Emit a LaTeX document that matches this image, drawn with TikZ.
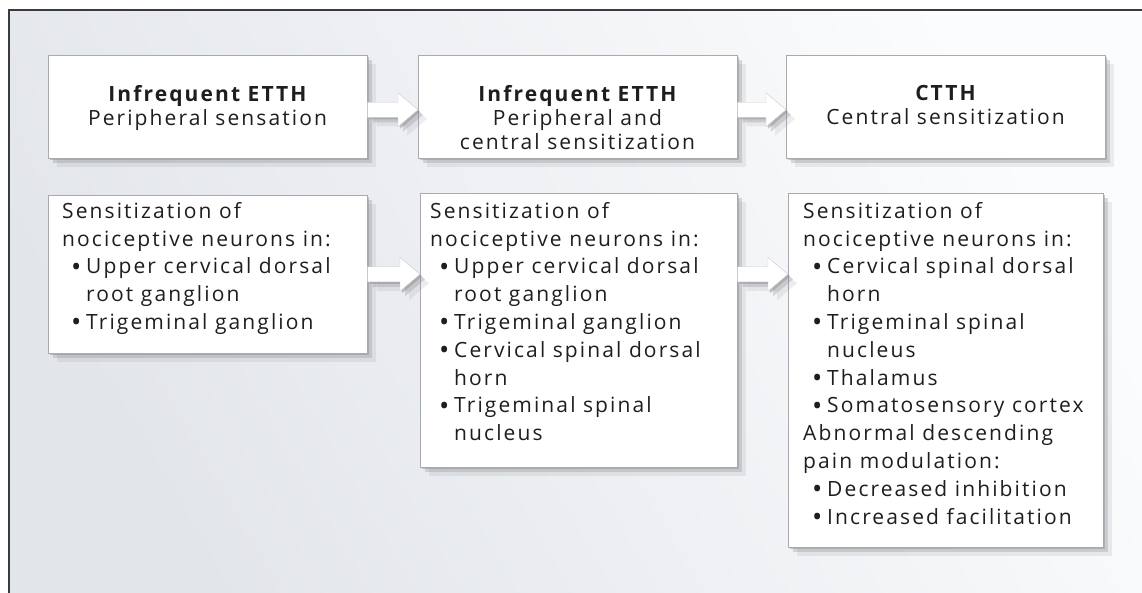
\documentclass[tikz,border=0pt]{standalone}
\usepackage{fontspec}
\setmainfont{Open Sans}[LetterSpace=10]
\usetikzlibrary{shadows,calc}
\definecolor{bgA}{HTML}{E2E5EA}
\definecolor{bgB}{HTML}{FBFCFD}
\definecolor{framec}{HTML}{3A3B40}
\definecolor{boxline}{HTML}{A9AAAE}
\definecolor{shade}{HTML}{8A8C92}
\definecolor{txtc}{HTML}{1E1E22}
\newcommand\bul{\makebox[24pt][l]{\hspace*{9pt}\raisebox{-2.2pt}{\scalebox{1.3}{\textbullet}}}}
\newcommand\ind{\hspace*{24pt}}
\tikzset{
  softshadow/.style={
    general shadow={shadow xshift=2pt, shadow yshift=-2pt, fill=shade, opacity=0.45},
    general shadow={shadow xshift=5pt, shadow yshift=-5pt, fill=shade, opacity=0.3},
    general shadow={shadow xshift=9pt, shadow yshift=-9pt, fill=shade, opacity=0.15}},
  box/.style={draw=boxline, line width=0.6pt, fill=white, anchor=north west, inner sep=0, softshadow},
  blockarrow/.style={fill=white, draw=boxline!60, line width=0.4pt, softshadow},
  headtxt/.style={anchor=north, inner sep=0, align=center, text=txtc, font=\fontsize{21}{24}\selectfont},
  listtxt/.style={anchor=north west, inner sep=0, align=left, text=txtc, font=\fontsize{21}{27.8}\selectfont},
  framel/.style={draw=framec, line width=1.4pt}
}
\newcommand\blockarr[2]{%
  \path[blockarrow] ($(#1)+(0,7.5)$) -- ($(#2)+(-20,7.5)$) -- ($(#2)+(-20,17)$) -- (#2)
    -- ($(#2)+(-20,-17)$) -- ($(#2)+(-20,-7.5)$) -- ($(#1)+(0,-7.5)$) -- cycle;}
\begin{document}
\begin{tikzpicture}[x=1pt,y=1pt]
\useasboundingbox (0,0) rectangle (1142,-593);
\fill[white] (0,0) rectangle (1142,-593);
\shade[left color=bgA, right color=bgB, shading angle=120] (9,-10) rectangle (1142,-593);
\draw[framel] (9,-593) -- (9,-10) -- (1142,-10);

% top row
\node[box, minimum width=319pt, minimum height=103pt] (A) at (48,-55) {};
\node[box, minimum width=319pt, minimum height=103pt] (B) at (418,-55) {};
\node[box, minimum width=319pt, minimum height=103pt] (C) at (786,-55) {};
% bottom row
\node[box, minimum width=319pt, minimum height=158pt] (D) at (48,-195) {};
\node[box, minimum width=317pt, minimum height=274pt] (E) at (420,-193) {};
\node[box, minimum width=315pt, minimum height=354pt] (F) at (788,-193) {};

% arrows
\coordinate (a1s) at ($(A.east)+(0,-3)$);
\coordinate (a1e) at ($(B.west)+(0,-3)$);
\coordinate (a2s) at ($(B.east)+(0,-3)$);
\coordinate (a2e) at ($(C.west)+(0,-3)$);
\coordinate (a3s) at (D.east);
\coordinate (a3e) at (E.west |- D.east);
\coordinate (a4s) at (E.east |- D.east);
\coordinate (a4e) at (F.west |- D.east);
\blockarr{a1s}{a1e}
\blockarr{a2s}{a2e}
\blockarr{a3s}{a3e}
\blockarr{a4s}{a4e}

% texts
\node[headtxt] (tA) at (207.5,-85) {{\bfseries Infrequent ETTH}\\Peripheral sensation};
\node[headtxt] (tB) at (577.5,-85) {{\bfseries Infrequent ETTH}\\Peripheral and\\central sensitization};
\node[headtxt] (tC) at (945.5,-85) {{\bfseries CTTH}\\Central sensitization};

\node[listtxt] (tD) at (62,-202) {Sensitization of\\nociceptive neurons in:\\
\bul Upper cervical dorsal\\\ind root ganglion\\\bul Trigeminal ganglion};
\node[listtxt] (tE) at (430,-202) {Sensitization of\\nociceptive neurons in:\\
\bul Upper cervical dorsal\\\ind root ganglion\\\bul Trigeminal ganglion\\
\bul Cervical spinal dorsal\\\ind horn\\\bul Trigeminal spinal\\\ind nucleus};
\node[listtxt] (tF) at (803,-202) {Sensitization of\\nociceptive neurons in:\\
\bul Cervical spinal dorsal\\\ind horn\\\bul Trigeminal spinal\\\ind nucleus\\
\bul Thalamus\\\bul Somatosensory cortex\\Abnormal descending\\pain modulation:\\
\bul Decreased inhibition\\\bul Increased facilitation};
\end{tikzpicture}
\end{document}
